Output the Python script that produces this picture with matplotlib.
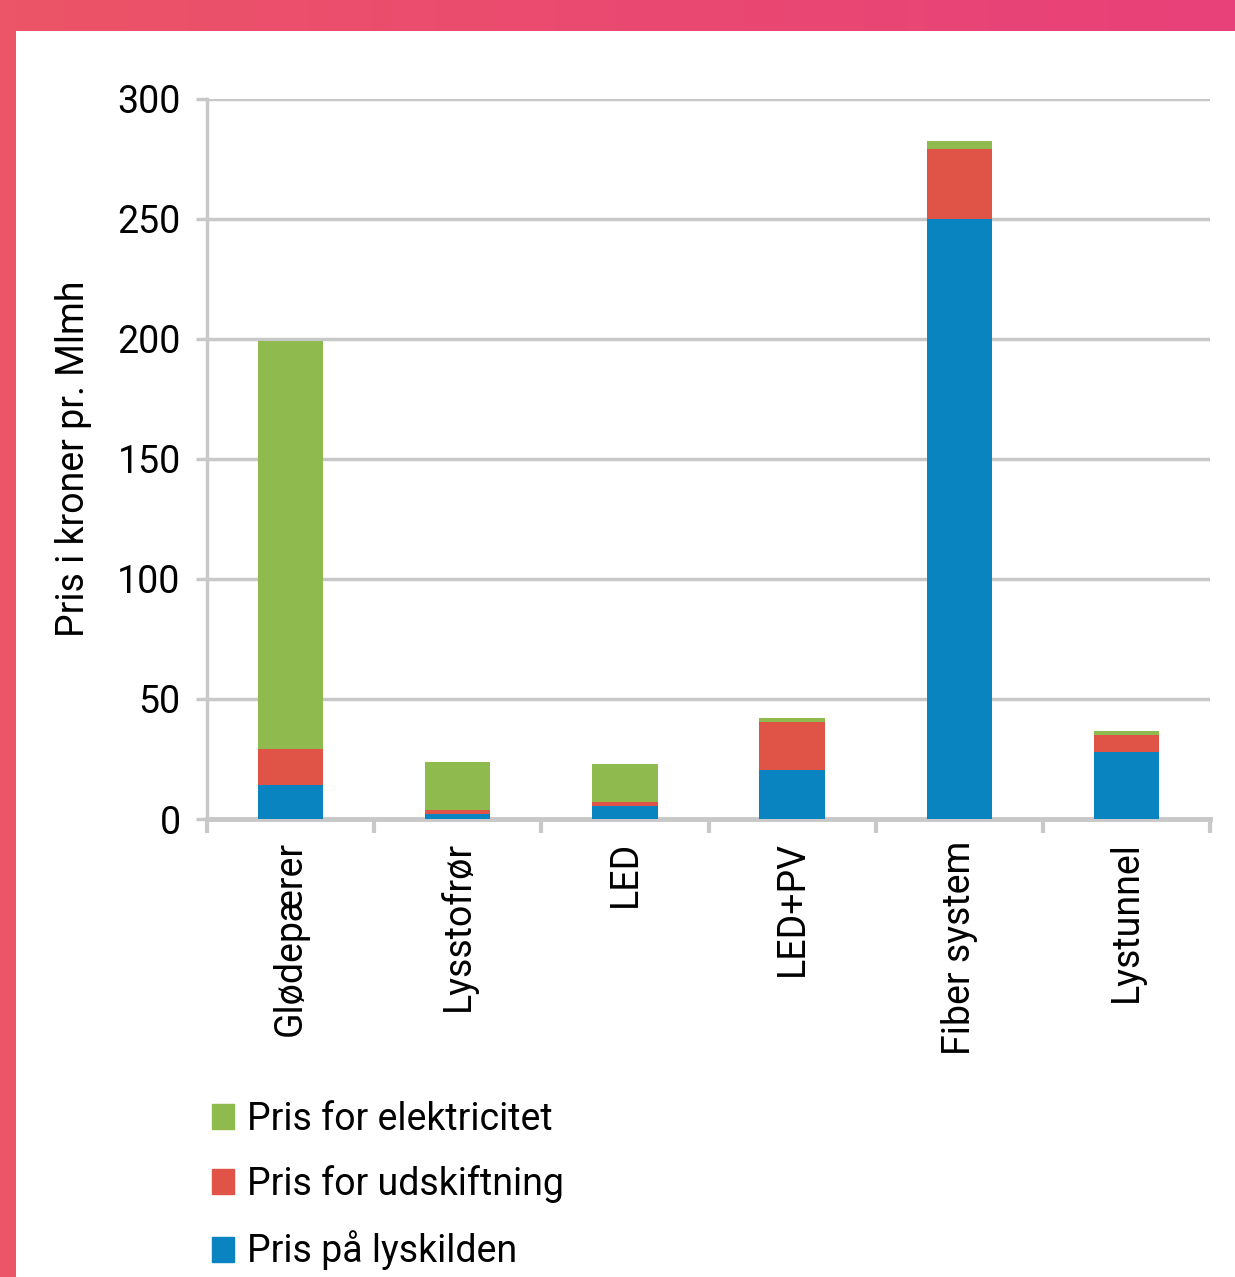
import numpy as np
import matplotlib.pyplot as plt
from matplotlib.patches import Patch
from matplotlib.colors import LinearSegmentedColormap

categories = ["Glødepærer", "Lysstofrør", "LED", "LED+PV", "Fiber system", "Lystunnel"]
lyskilden = [14, 2, 5.5, 20.5, 250, 28]
udskiftning = [15, 1.8, 1.5, 20, 29, 7]
elektricitet = [170, 20, 16, 1.5, 3.5, 1.5]

GREEN = "#8FBA4E"
RED = "#E05448"
BLUE = "#0A84C1"
GRID = "#C8C8C8"
FS = 27

plt.rcParams['font.family'] = ['Roboto', 'DejaVu Sans']

fig = plt.figure(figsize=(12.35, 12.77), dpi=100)

# pink frame (top bar with gradient + left strip)
top = fig.add_axes([0, 1 - 31 / 1277, 1, 31 / 1277])
grad = np.linspace(0, 1, 256).reshape(1, -1)
cmap = LinearSegmentedColormap.from_list("pk", ["#EC5467", "#E8407A"])
top.imshow(grad, aspect="auto", cmap=cmap)
top.axis("off")
left = fig.add_axes([0, 0, 16 / 1235, 1])
left.set_facecolor("#EC5468")
left.set_xticks([])
left.set_yticks([])
for s in left.spines.values():
    s.set_visible(False)

ax = fig.add_axes([207 / 1235, 1 - 819 / 1277, (1210 - 207) / 1235, (819 - 99) / 1277])
x = np.arange(len(categories))
w = 0.39
ax.bar(x, lyskilden, w, color=BLUE, zorder=3)
bottom2 = np.array(lyskilden)
ax.bar(x, udskiftning, w, bottom=bottom2, color=RED, zorder=3)
bottom3 = bottom2 + np.array(udskiftning)
ax.bar(x, elektricitet, w, bottom=bottom3, color=GREEN, zorder=3)

ax.set_xlim(-0.5, 5.5)
ax.set_ylim(0, 300)
ax.set_yticks([0, 50, 100, 150, 200, 250, 300])
ax.tick_params(axis="y", labelsize=FS, length=8, width=2.5, color=GRID, pad=11)
ax.yaxis.grid(True, color=GRID, linewidth=2.5, zorder=0)

ax.set_xticks(np.arange(-0.5, 6, 1))
ax.set_xticklabels([])
ax.tick_params(axis="x", which="major", length=10, width=3, color=GRID)
ax.set_xticks(x, minor=True)
ax.set_xticklabels(categories, minor=True, rotation=90, fontsize=FS, va="top")
ax.tick_params(axis="x", which="minor", length=0, pad=16)

for s in ["top", "right"]:
    ax.spines[s].set_visible(False)
ax.spines["left"].set_color(GRID)
ax.spines["left"].set_linewidth(2.5)
ax.spines["bottom"].set_color(GRID)
ax.spines["bottom"].set_linewidth(3.5)

ax.set_ylabel("Pris i kroner pr. Mlmh", fontsize=FS, labelpad=18)

handles = [Patch(color=GREEN), Patch(color=RED), Patch(color=BLUE)]
labels = ["Pris for elektricitet", "Pris for udskiftning", "Pris på lyskilden"]
fig.legend(handles, labels, loc="upper left", bbox_to_anchor=(178 / 1235, 1 - 1067 / 1277),
           frameon=False, fontsize=FS, handlelength=0.6, handleheight=0.65,
           handletextpad=0.35, labelspacing=0.73)

fig.savefig("out.png", dpi=100)
